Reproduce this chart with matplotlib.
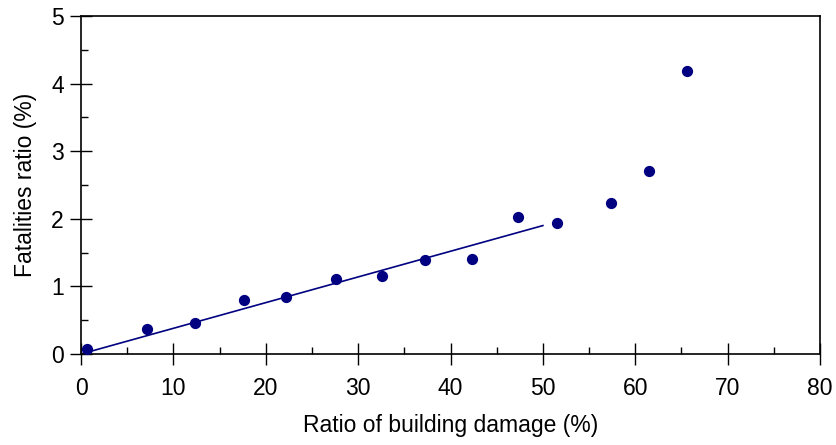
import numpy as np
import matplotlib.pyplot as plt
from matplotlib.ticker import MultipleLocator

plt.rcParams['font.family'] = ['Liberation Sans', 'DejaVu Sans']

# Observed points
damage = [0.7, 7.1, 12.3, 17.6, 22.2, 27.6, 32.6, 37.2, 42.3, 47.3, 51.5, 57.4, 61.5, 65.6]
fatal = [0.07, 0.37, 0.46, 0.80, 0.84, 1.11, 1.15, 1.39, 1.41, 2.03, 1.94, 2.24, 2.71, 4.18]

# Fitted line
fit_x = [0, 50]
fit_y = [0, 1.90]

fig = plt.figure(figsize=(8.36, 4.45), dpi=100)
ax = fig.add_axes([0.0969, 0.2045, 0.884, 0.7595])

ax.plot(fit_x, fit_y, color='#000080', lw=1.2)
ax.scatter(damage, fatal, s=50, color='#000080', zorder=3, clip_on=False)

ax.set_xlim(0, 80)
ax.set_ylim(0, 5)
ax.xaxis.set_major_locator(MultipleLocator(10))
ax.xaxis.set_minor_locator(MultipleLocator(5))
ax.yaxis.set_major_locator(MultipleLocator(1))
ax.yaxis.set_minor_locator(MultipleLocator(0.5))
ax.tick_params(which='major', direction='inout', length=16, width=1, labelsize=16.5)
ax.tick_params(axis='x', which='major', pad=8.5)
ax.tick_params(axis='y', which='major', pad=4.5)
ax.tick_params(which='minor', direction='in', length=5, width=1)
for s in ax.spines.values():
    s.set_linewidth(1.2)

ax.set_xlabel('Ratio of building damage (%)', fontsize=16.5, labelpad=10)
ax.set_ylabel('Fatalities ratio (%)', fontsize=16.5, labelpad=10)

fig.savefig('out.png', dpi=100)
